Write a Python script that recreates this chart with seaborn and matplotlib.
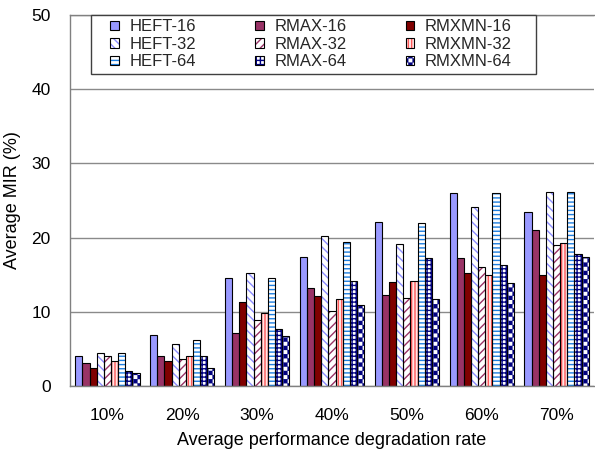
import warnings
warnings.filterwarnings('ignore')
import numpy as np
import pandas as pd
import matplotlib
matplotlib.use('Agg')
import matplotlib.pyplot as plt
import seaborn as sns
from matplotlib import hatch as mhatch
from matplotlib.path import Path
from matplotlib.offsetbox import HPacker, DrawingArea

# ---------------- data ----------------
categories = ['10%', '20%', '30%', '40%', '50%', '60%', '70%']
series_names = ['HEFT-16', 'RMAX-16', 'RMXMN-16',
                'HEFT-32', 'RMAX-32', 'RMXMN-32',
                'HEFT-64', 'RMAX-64', 'RMXMN-64']
heft16 = [4.1, 6.9, 14.5, 17.4, 22.1, 26.0, 23.5]
rmax16 = [3.1, 4.1, 7.2, 13.2, 12.3, 17.2, 21.0]
rmxmn16 = [2.4, 3.4, 11.3, 12.1, 14.0, 15.2, 15.0]
heft32 = [4.5, 5.6, 15.2, 20.2, 19.1, 24.1, 26.1]
rmax32 = [4.1, 3.7, 8.9, 10.1, 11.8, 16.0, 19.0]
rmxmn32 = [3.4, 4.0, 9.9, 11.7, 14.2, 14.9, 19.3]
heft64 = [4.5, 6.2, 14.5, 19.4, 22.0, 26.0, 26.1]
rmax64 = [2.0, 4.0, 7.7, 14.1, 17.2, 16.3, 17.8]
rmxmn64 = [1.8, 2.4, 6.8, 10.9, 11.7, 13.9, 17.4]
y_ticks = [0, 10, 20, 30, 40, 50]
x_label = 'Average performance degradation rate'
y_label = 'Average MIR (%)'

values = [heft16, rmax16, rmxmn16, heft32, rmax32, rmxmn32, heft64, rmax64, rmxmn64]

# face colour, hatch, hatch colour
styles = [
    ('#9999FF', None, '#9999FF'),
    ('#993366', None, '#993366'),
    ('#800000', None, '#800000'),
    ('#FFFFFF', '\\\\\\\\', '#8C8CFF'),
    ('#FFFFFF', '////', '#993366'),
    ('#FFE4E4', '|||||', '#FF5A5A'),
    ('#FFFFFF', '----', '#1E7FE0'),
    ('#FFFFFF', '++++', '#000080'),
    ('#FFFFFF', 'cccc', '#000080'),
]


# ---------------- checkerboard hatch ----------------
class CheckerHatch(mhatch.HatchPatternBase):
    def __init__(self, hatch, density):
        self.n = int(hatch.count('c') * density)
        cells = (self.n * self.n + 1) // 2 if self.n else 0
        self.num_vertices = cells * 5

    def set_vertices_and_codes(self, vertices, codes):
        n = self.n
        s = 1.0 / n
        e = 0.006
        k = 0
        for i in range(n):
            for j in range(n):
                if (i + j) % 2 == 0:
                    x0, y0 = i * s + e, j * s + e
                    x1, y1 = (i + 1) * s - e, (j + 1) * s - e
                    vertices[k:k + 5] = [[x0, y0], [x1, y0], [x1, y1], [x0, y1], [x0, y0]]
                    codes[k:k + 5] = [Path.MOVETO, Path.LINETO, Path.LINETO,
                                      Path.LINETO, Path.CLOSEPOLY]
                    k += 5


mhatch._hatch_types.append(CheckerHatch)

# ---------------- style ----------------
sns.set_theme(style='white')
plt.rcParams['font.family'] = ['Liberation Sans', 'DejaVu Sans']
plt.rcParams['hatch.linewidth'] = 1.0

df = pd.DataFrame({
    'rate': [c for _ in series_names for c in categories],
    'series': [s for s in series_names for _ in categories],
    'mir': [v for vals in values for v in vals],
})

fig = plt.figure(figsize=(5.95, 4.54), dpi=100)
ax = fig.add_axes([70 / 595, 68 / 454, 524 / 595, 371 / 454])

# fill + hatch layer (hatch colour follows edge colour)
sns.barplot(data=df, x='rate', y='mir', hue='series', order=categories,
            hue_order=series_names, palette=[s[0] for s in styles],
            saturation=1, width=0.86, errorbar=None, legend=False,
            linewidth=0, ax=ax)
n_series = len(series_names)
for container, (face, hatch, hcol) in zip(ax.containers[:n_series], styles):
    for p in container:
        p.set_facecolor(face)
        p.set_edgecolor(hcol)
        p.set_linewidth(0)
        if hatch:
            p.set_hatch(hatch)

# outline layer
sns.barplot(data=df, x='rate', y='mir', hue='series', order=categories,
            hue_order=series_names, palette=[s[0] for s in styles],
            saturation=1, width=0.86, errorbar=None, legend=False,
            linewidth=0.8, ax=ax)
for container in ax.containers[n_series:]:
    for p in container:
        p.set_facecolor('none')
        p.set_edgecolor('black')
        p.set_linewidth(0.8)

# axes
ax.set_xlim(-0.5, len(categories) - 0.5)
ax.set_ylim(0, 50)
ax.set_yticks(y_ticks)
ax.yaxis.grid(True, color='#8a8a8a', linewidth=1)
ax.set_axisbelow(True)
for side in ['left', 'bottom', 'top']:
    ax.spines[side].set_visible(True)
    ax.spines[side].set_color('#808080')
    ax.spines[side].set_linewidth(1)
ax.spines['right'].set_visible(False)

ax.tick_params(axis='x', which='major', length=0, pad=16, labelsize=12.5, labelcolor='black')
ax.tick_params(axis='y', which='major', length=0, pad=14, labelsize=12.5, labelcolor='black')
ax.set_xticks(np.arange(len(categories) - 1) + 0.5, minor=True)
ax.tick_params(axis='x', which='minor', direction='in', length=5, width=1, color='#606060')

ax.set_xlabel(x_label, fontsize=13, labelpad=6, color='black')
ax.set_ylabel(y_label, fontsize=13, labelpad=7, color='black')

# legend (column-major order so rows read HEFT / RMAX / RMXMN)
order = [0, 3, 6, 1, 4, 7, 2, 5, 8]
fill_c = ax.containers[:n_series]
handles = [fill_c[i] for i in order]
labels = [series_names[i] for i in order]
leg = ax.legend(handles, labels, ncol=3, loc='upper left',
                bbox_to_anchor=(21 / 524, 1.0), borderaxespad=0,
                fontsize=12, handlelength=0.52, handleheight=0.52,
                handletextpad=0.63, columnspacing=3.55, labelspacing=0.15,
                borderpad=0.27, frameon=True, fancybox=False,
                edgecolor='#404040', framealpha=1)
leg.get_frame().set_linewidth(1.0)
for lh in leg.legend_handles:
    lh.set_linewidth(0.8)
    lh._edgecolor = (0, 0, 0, 1)
try:
    hb = leg._legend_handle_box
    wrap = HPacker(pad=0, sep=0, align='center',
                   children=[DrawingArea(10.5, 0.1), hb, DrawingArea(14.0, 0.1)])
    leg._legend_box._children[1] = wrap
    leg._legend_box.set_figure(fig)
except Exception:
    pass

fig.savefig('out.png', dpi=100)
